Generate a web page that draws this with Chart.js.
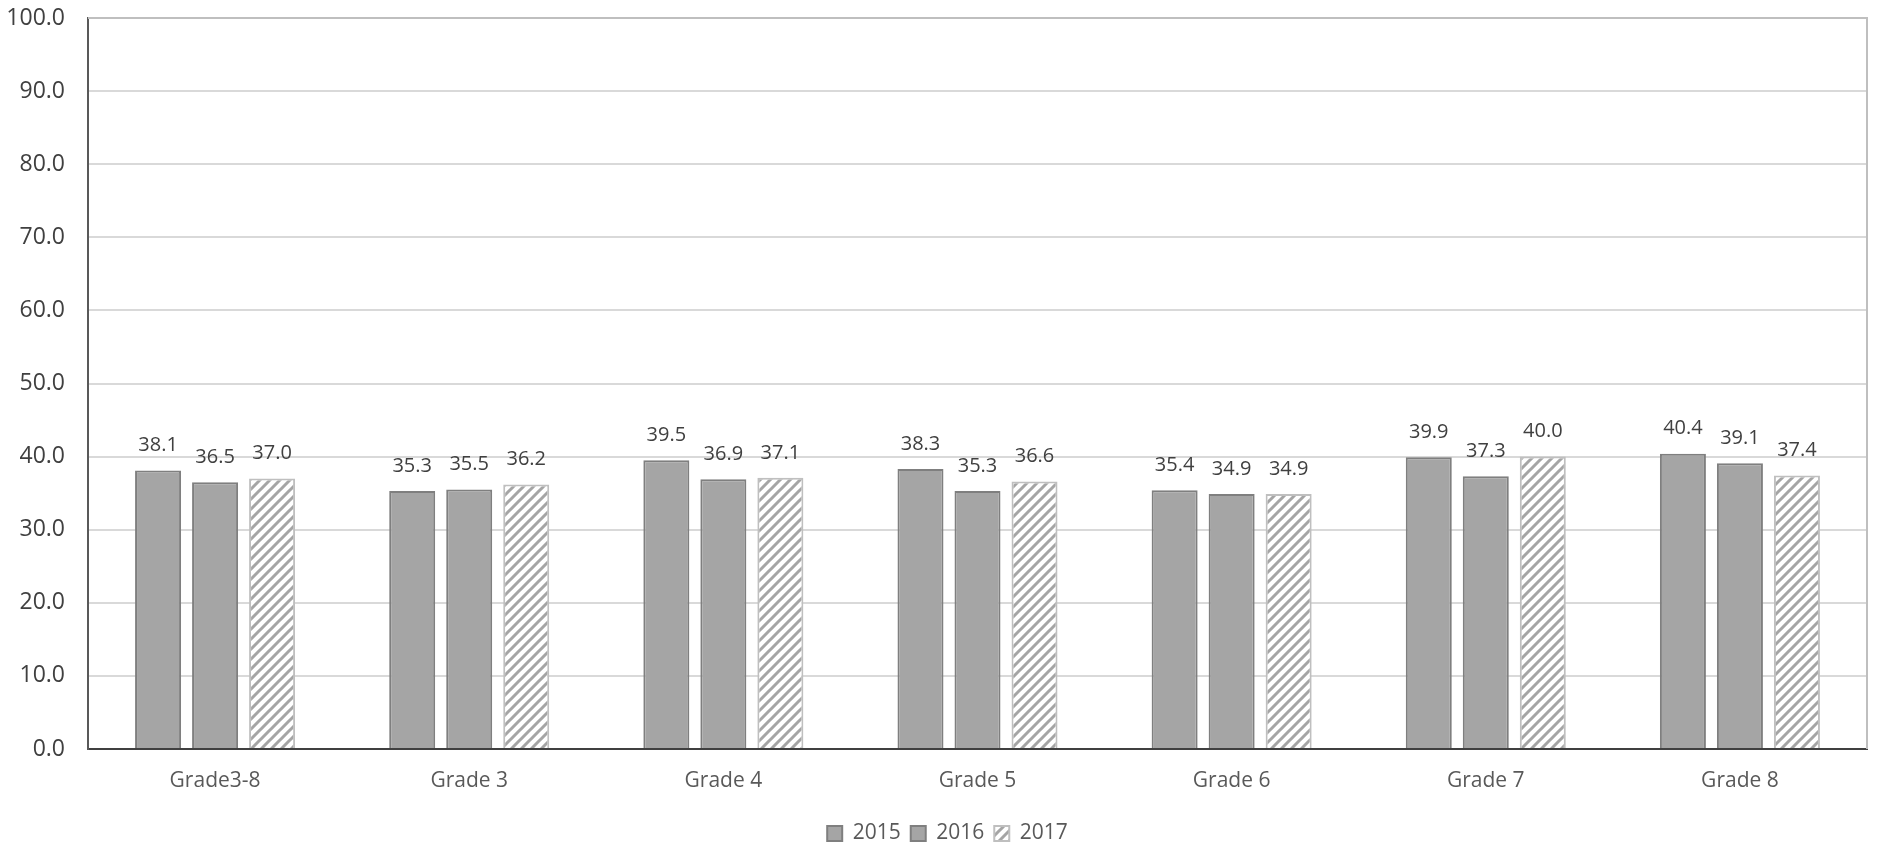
<!DOCTYPE html>
<html>
<head>
<meta charset="utf-8">
<script src="https://cdn.jsdelivr.net/npm/chart.js@4/dist/chart.umd.min.js"></script>
<style>
  html, body { margin: 0; padding: 0; background: #fff; }
  #wrap { width: 1877px; height: 848px; }
</style>
</head>
<body>
<div id="wrap"><canvas id="grades-chart"></canvas></div>
<script>
const categories = ['Grade3-8', 'Grade 3', 'Grade 4', 'Grade 5', 'Grade 6', 'Grade 7', 'Grade 8'];
const seriesNames = ['2015', '2016', '2017'];
const values2015 = [38.1, 35.3, 39.5, 38.3, 35.4, 39.9, 40.4];
const values2016 = [36.5, 35.5, 36.9, 35.3, 34.9, 37.3, 39.1];
const values2017 = [37.0, 36.2, 37.1, 36.6, 34.9, 40.0, 37.4];
const yTicks = { min: 0, max: 100, step: 10 };

const FONT = "'Open Sans', 'Noto Sans', sans-serif";

// diagonal stripes for the 2017 bars
function makeHatch() {
	const size = 10;
	const c = document.createElement('canvas');
	c.width = size;
	c.height = size;
	const g = c.getContext('2d');
	g.fillStyle = '#ffffff';
	g.fillRect(0, 0, size, size);
	g.strokeStyle = '#a5a5a5';
	g.lineWidth = 3;
	g.beginPath();
	g.moveTo(-2, size + 2); g.lineTo(size + 2, -2);
	g.moveTo(-size / 2 - 2, size / 2 + 2); g.lineTo(size / 2 + 2, -size / 2 - 2);
	g.moveTo(size / 2 - 2, size * 1.5 + 2); g.lineTo(size * 1.5 + 2, size / 2 - 2);
	g.stroke();
	return g.createPattern(c, 'repeat');
}

const valueLabels = {
	id: 'valueLabels',
	afterDatasetsDraw(chart) {
		const ctx = chart.ctx;
		ctx.save();
		ctx.font = '20px ' + FONT;
		ctx.fillStyle = '#404040';
		ctx.textAlign = 'center';
		ctx.textBaseline = 'middle';
		chart.data.datasets.forEach((ds, i) => {
			chart.getDatasetMeta(i).data.forEach((bar, j) => {
				ctx.fillText(ds.data[j].toFixed(1), bar.x, bar.y - 25);
			});
		});
		ctx.restore();
	}
};

const plotFrame = {
	id: 'plotFrame',
	afterDraw(chart) {
		const a = chart.chartArea;
		const ctx = chart.ctx;
		ctx.save();
		ctx.strokeStyle = '#bfbfbf';
		ctx.lineWidth = 2;
		ctx.beginPath();
		ctx.moveTo(a.left, a.top);
		ctx.lineTo(a.right, a.top);
		ctx.lineTo(a.right, a.bottom);
		ctx.stroke();
		ctx.restore();
	}
};

// the legend sits a little right of centre in the original
const legendNudge = {
	id: 'legendNudge',
	afterLayout(chart) {
		if (chart.legend) {
			chart.legend.left += 14;
			chart.legend.right += 14;
		}
	}
};

new Chart(document.getElementById('grades-chart'), {
	type: 'bar',
	data: {
		labels: categories,
		datasets: [{
			label: seriesNames[0],
			data: values2015,
			backgroundColor: '#a5a5a5',
			borderColor: '#7f7f7f',
			borderWidth: 2
		}, {
			label: seriesNames[1],
			data: values2016,
			backgroundColor: '#a5a5a5',
			borderColor: '#7f7f7f',
			borderWidth: 2
		}, {
			label: seriesNames[2],
			data: values2017,
			backgroundColor: makeHatch(),
			borderColor: '#bfbfbf',
			borderWidth: 2
		}]
	},
	options: {
		responsive: true,
		maintainAspectRatio: false,
		animation: false,
		devicePixelRatio: 1,
		datasets: {
			bar: { categoryPercentage: 0.673, barPercentage: 0.807 }
		},
		layout: { padding: { top: 18, right: 10, left: 0, bottom: -6 } },
		plugins: {
			legend: {
				position: 'bottom',
				labels: {
					font: { family: FONT, size: 21 },
					color: '#595959',
					boxWidth: 15,
					boxHeight: 15,
					padding: 10
				}
			},
			tooltip: { enabled: false }
		},
		scales: {
			x: {
				grid: { display: false },
				border: { color: '#404040', width: 2 },
				ticks: {
					font: { family: FONT, size: 21 },
					color: '#595959',
					padding: 11
				},
				afterFit(scale) { scale.height = 64; }
			},
			y: {
				min: yTicks.min,
				max: yTicks.max,
				grid: { color: '#d9d9d9', lineWidth: 2, drawTicks: false },
				border: { color: '#595959', width: 2 },
				ticks: {
					stepSize: yTicks.step,
					font: { family: FONT, size: 23 },
					color: '#404040',
					padding: 23,
					callback: v => v.toFixed(1)
				},
				afterFit(scale) {
					scale.width = 88;
					scale.paddingTop = 0;
					scale.paddingBottom = 0;
				}
			}
		}
	},
	plugins: [valueLabels, plotFrame, legendNudge]
});
</script>
</body>
</html>
